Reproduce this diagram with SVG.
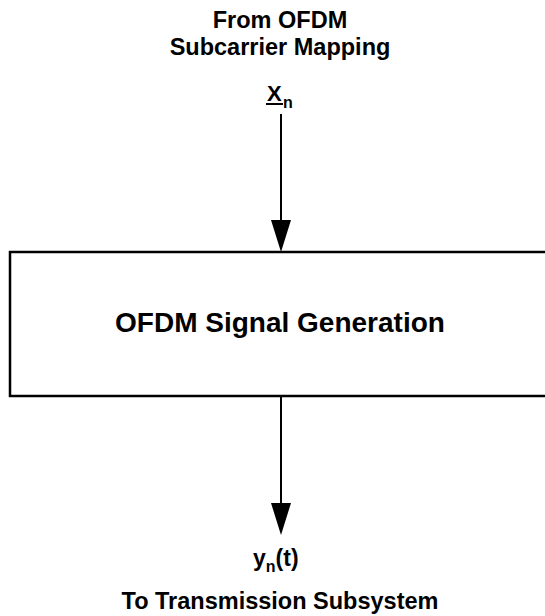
<svg xmlns="http://www.w3.org/2000/svg" width="545" height="616" viewBox="0 0 545 616">
<style>
text{font-family:"Liberation Sans",Arial,sans-serif;font-weight:bold;fill:#000}
.lbl{font-size:23.5px}
.line{stroke:#000;stroke-width:2;fill:none}
</style>
<rect width="545" height="616" fill="#fff"/>
<g id="input-label">
<text class="lbl" x="280" y="28" text-anchor="middle">From OFDM</text>
<text class="lbl" x="280" y="55" text-anchor="middle">Subcarrier Mapping</text>
<text x="267" y="101" font-size="22">X</text>
<line x1="266" y1="104" x2="283" y2="104" stroke="#000" stroke-width="2"/>
<text x="283" y="108" font-size="16">n</text>
</g>
<g id="ofdm-signal-generation">
<rect x="10" y="252" width="545" height="144" fill="#fff" stroke="#000" stroke-width="2.5"/>
<text x="280" y="332" font-size="28" text-anchor="middle">OFDM Signal Generation</text>
</g>
<g id="output-label">
<text x="253" y="566" font-size="23">y<tspan font-size="16" dy="6">n</tspan><tspan dy="-6">(t)</tspan></text>
<text class="lbl" x="280" y="609" text-anchor="middle">To Transmission Subsystem</text>
</g>
<g id="connectors">
<line class="line" x1="281" y1="114" x2="281" y2="222"/>
<polygon points="271,220 291,220 281,252"/>
<line class="line" x1="281" y1="397" x2="281" y2="505"/>
<polygon points="271,503 291,503 281,535"/>
</g>
</svg>
